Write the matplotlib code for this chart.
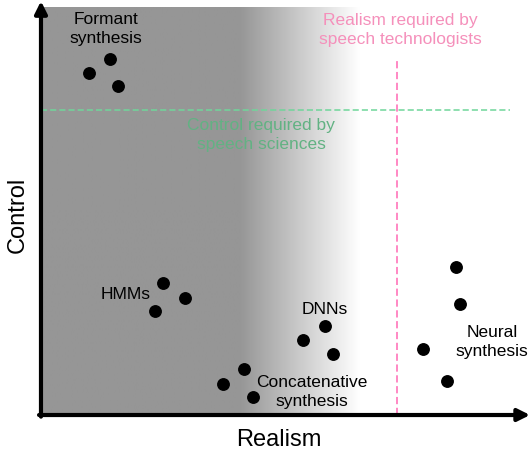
import matplotlib.pyplot as plt
import matplotlib.colors as mcolors
import numpy as np

plt.rcParams['font.family'] = ['Liberation Sans', 'DejaVu Sans']

# groups of systems: realism (x), control (y)
formant_x = [0.98, 1.41, 1.57]
formant_y = [8.40, 8.75, 8.08]
hmm_x = [2.49, 2.94, 2.33]
hmm_y = [3.24, 2.87, 2.56]
concat_x = [4.15, 3.72, 4.34]
concat_y = [1.13, 0.76, 0.44]
dnn_x = [5.81, 5.36, 5.97]
dnn_y = [2.19, 1.84, 1.50]
neural_x = [8.49, 8.57, 7.81, 8.30]
neural_y = [3.64, 2.73, 1.62, 0.84]

control_required = 7.5
realism_required = 7.28

fig = plt.figure(figsize=(5.32, 4.54), dpi=100)
ax = fig.add_axes([0, 0, 1, 1])
ax.set_xlim(-0.838, 10.04)
ax.set_ylim(-0.958, 10.197)
ax.axis('off')

# grey background that fades to white
xs = np.linspace(0, 6.52, 400)
fade = np.clip((xs - 4.07) / (6.52 - 4.07), 0, 1)
cmap = mcolors.LinearSegmentedColormap.from_list('g', ['#969696', '#ffffff'])
ax.imshow(fade[np.newaxis, :], cmap=cmap, aspect='auto', extent=[0, 6.52, 0, 10.02],
          interpolation='bilinear', zorder=0)

# requirement lines
ax.plot([0, 9.59], [control_required, control_required], ls=(0, (4, 2)), color='#6fd69a', lw=1.1, zorder=1)
ax.plot([realism_required, realism_required], [0, 8.72], ls=(0, (4, 2)), color='#ff7fbf', lw=1.3, zorder=1)
ax.text(4.50, 6.88, 'Control required by\nspeech sciences', color='#62b283', fontsize=12.5,
        ha='center', va='center', linespacing=1.35)
ax.text(7.34, 9.46, 'Realism required by\nspeech technologists', color='#f590bb', fontsize=12.5,
        ha='center', va='center', linespacing=1.35)

# points
for xx, yy in [(formant_x, formant_y), (hmm_x, hmm_y), (concat_x, concat_y),
               (dnn_x, dnn_y), (neural_x, neural_y)]:
    ax.scatter(xx, yy, s=68, color='black', zorder=3)

ax.text(1.33, 9.48, 'Formant\nsynthesis', fontsize=12.5, ha='center', va='center', linespacing=1.35)
ax.text(1.74, 2.97, 'HMMs', fontsize=12.5, ha='center', va='center')
ax.text(5.81, 2.60, 'DNNs', fontsize=12.5, ha='center', va='center')
ax.text(9.22, 1.79, 'Neural\nsynthesis', fontsize=12.5, ha='center', va='center', linespacing=1.35)
ax.text(5.54, 0.57, 'Concatenative\nsynthesis', fontsize=12.5, ha='center', va='center', linespacing=1.35)

# axes with arrows
arrow = dict(arrowstyle='-|>', lw=3, color='black', mutation_scale=18, shrinkA=0, shrinkB=0)
ax.annotate('', xy=(0, 10.17), xytext=(0, -0.04), arrowprops=arrow, zorder=4)
ax.annotate('', xy=(10.0, 0), xytext=(-0.04, 0), arrowprops=arrow, zorder=4)

ax.text(4.87, -0.62, 'Realism', fontsize=17, ha='center', va='center')
ax.text(-0.48, 4.91, 'Control', fontsize=17, ha='center', va='center', rotation=90)

fig.savefig('out.png', dpi=100)
